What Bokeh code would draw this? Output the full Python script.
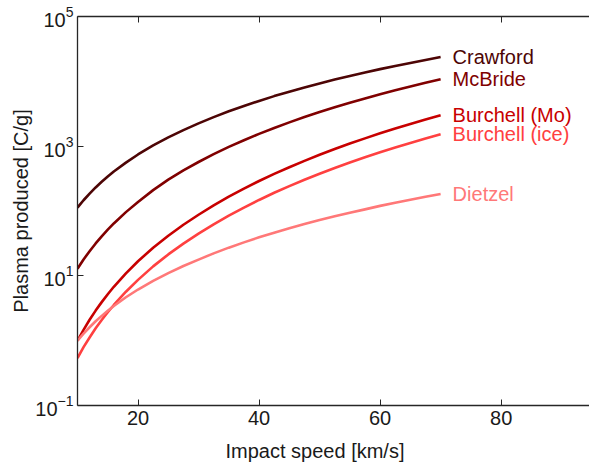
from bokeh.plotting import figure
from bokeh.models import LinearAxis, FixedTicker, Range1d, Title, ColumnDataSource
from bokeh.core.properties import value
from bokeh.embed import file_html
from bokeh.resources import INLINE

speed = [10, 11, 12, 13, 14, 15, 16, 18, 20, 22.5, 25, 27.5, 30, 32.5, 35, 37.5, 40,
         42.5, 45, 47.5, 50, 52.5, 55, 57.5, 60, 62.5, 65, 67.5, 70]
crawford = [113, 146.5, 185, 231, 282, 340, 406, 558, 745, 1026, 1365, 1770, 2245,
            2805, 3445, 4170, 4990, 5915, 6920, 8050, 9290, 10640, 12100, 13710, 15420,
            17260, 19230, 21380, 23660]
mcbride = [12.9, 17.9, 24.0, 31.6, 40.7, 51.5, 64.3, 96.1, 138, 210, 304, 423, 570,
           753, 973, 1236, 1549, 1910, 2328, 2812, 3357, 3981, 4677, 5458, 6324, 7278,
           8337, 9506, 10790]
burchell_mo = [1.0, 1.47, 2.10, 2.91, 3.93, 5.2, 6.78, 10.9, 16.8, 27.1, 41.6, 61.4, 87.5,
               122, 166, 222, 290, 374, 474, 594, 736, 904, 1096, 1318, 1578, 1866, 2198,
               2576, 2999]
burchell_ice = [0.54, 0.794, 1.12, 1.55, 2.08, 2.74, 3.55, 5.69, 8.67, 14.0, 21.4, 31.4, 44.7,
                62.4, 84.9, 113, 148, 191, 242, 303, 376, 461, 560, 673, 805, 953, 1122,
                1315, 1531]
dietzel = [1.0, 1.28, 1.61, 1.99, 2.41, 2.89, 3.43, 4.67, 6.15, 8.37, 11.0, 14.2, 17.8,
           22.2, 27.2, 32.8, 39.3, 46.3, 54.2, 63.0, 72.4, 83.0, 94.2, 106, 120, 134, 149,
           166, 183]

names = ["Crawford", "McBride", "Burchell (Mo)", "Burchell (ice)", "Dietzel"]
series = [crawford, mcbride, burchell_mo, burchell_ice, dietzel]
colors = ["#4d0505", "#800000", "#c80000", "#ff4040", "#ff7878"]

x_ticks = [20, 40, 60, 80]
y_ticks = [0.1, 10, 1000, 100000]

FONT = "Liberation Sans"

p = figure(width=589, height=471, y_axis_type="log",
           x_range=Range1d(10, 94.6), y_range=Range1d(0.1, 100000),
           output_backend="svg", toolbar_location=None,
           min_border_left=77, min_border_right=0, min_border_top=16, min_border_bottom=10)
p.outline_line_color = None
p.grid.visible = False
p.background_fill_color = "white"

for ys, c in zip(series, colors):
    p.line(speed, ys, line_color=c, line_width=2.6, line_join="round")

src = ColumnDataSource(dict(x=[speed[-1]] * len(names), y=[s[-1] for s in series],
                            t=names, c=colors))
p.text(x="x", y="y", text="t", text_color="c", source=src, x_offset=12,
       text_baseline="middle", text_font=value(FONT), text_font_size="20px")

for ax in [p.xaxis[0], p.yaxis[0]]:
    ax.major_tick_in = 6
    ax.major_tick_out = 0
    ax.minor_tick_in = 0
    ax.minor_tick_out = 0
    ax.axis_line_color = "#262626"
    ax.major_tick_line_color = "#262626"
    ax.axis_line_width = 1.3
    ax.major_label_text_font = FONT
    ax.major_label_text_font_size = "20px"
    ax.major_label_text_color = "#1a1a1a"
    ax.axis_label_text_font = FONT
    ax.axis_label_text_font_size = "20px"
    ax.axis_label_text_font_style = "normal"
    ax.axis_label_text_color = "#1a1a1a"

p.xaxis[0].ticker = FixedTicker(ticks=x_ticks)
p.yaxis[0].ticker = FixedTicker(ticks=y_ticks)
p.xaxis[0].major_label_standoff = 5
p.yaxis[0].major_label_standoff = 4
p.yaxis[0].axis_label = "Plasma produced [C/g]"
p.yaxis[0].axis_label_standoff = 0

top = LinearAxis(ticker=FixedTicker(ticks=x_ticks), major_tick_in=6, major_tick_out=0,
                 minor_tick_in=0, minor_tick_out=0,
                 major_label_overrides={t: "" for t in x_ticks},
                 major_label_standoff=0, axis_line_color="#262626", axis_line_width=1.3,
                 major_tick_line_color="#262626")
p.add_layout(top, "above")

p.add_layout(Title(text="Impact speed [km/s]", align="left", offset=148,
                   text_font=FONT, text_font_size="20px", text_font_style="normal",
                   text_color="#1a1a1a", standoff=20), "below")

open("out.html", "w").write(file_html(p, INLINE))
